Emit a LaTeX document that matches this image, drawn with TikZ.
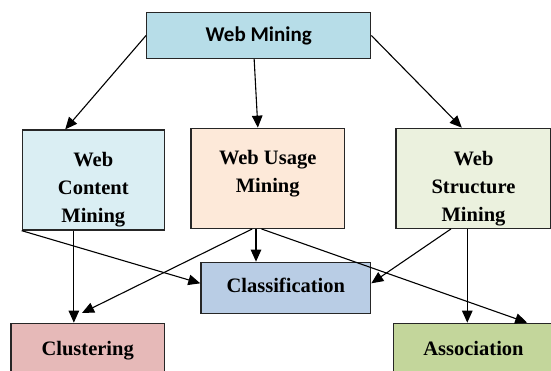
\documentclass[tikz,border=0pt]{standalone}
\usepackage{fontspec}
\setmainfont{Liberation Serif}
\newfontfamily\calibrifont{Carlito}
\usetikzlibrary{arrows.meta}

\definecolor{wmfill}{HTML}{B7DDE8}
\definecolor{contentfill}{HTML}{DAEEF3}
\definecolor{usagefill}{HTML}{FDE9D9}
\definecolor{structfill}{HTML}{EBF1DE}
\definecolor{classfill}{HTML}{B9CDE5}
\definecolor{clustfill}{HTML}{E6B9B8}
\definecolor{assocfill}{HTML}{C3D69B}

\begin{document}
\begin{tikzpicture}[x=1pt,y=-1pt,
  box/.style={draw=black!85, line width=1.3pt, inner sep=0pt, align=center,
    font=\bfseries\fontsize{20.5}{28}\selectfont},
  taskbox/.style={box, text height=14, text depth=4},
  arr/.style={line width=1.1pt, -{Triangle[length=12, width=10.5]}}]

\useasboundingbox (0,0) rectangle (551,370);
\clip (0,0) rectangle (551,370);

% top level
\node[box, fill=wmfill, minimum width=224, minimum height=45.6,
  font=\calibrifont\bfseries\fontsize{21}{25}\selectfont] (wm) at (258.7,35.5) {Web Mining};

% three kinds of mining
\node[box, fill=contentfill, minimum width=142, minimum height=100] (content) at (93.3,180) {\rule{0pt}{34pt}Web\\Content\\Mining};
\node[box, fill=usagefill, minimum width=153.3, minimum height=100] (usage) at (267.7,178.3) {\rule{0pt}{28pt}Web Usage\\Mining\\~};
\node[box, fill=structfill, minimum width=155, minimum height=100] (struct) at (473.5,178.3) {\rule{0pt}{34pt}Web\\Structure\\Mining};

% tasks
\node[taskbox, fill=classfill, minimum width=169.7, minimum height=51] (class) at (285.8,287.8) {Classification};
\node[taskbox, fill=clustfill, minimum width=153.3, minimum height=53.4] (clust) at (87.7,350) {Clustering};
\node[taskbox, fill=assocfill, minimum width=160, minimum height=53.4] (assoc) at (473.5,350) {Association};

\coordinate (clusttip) at (82,313);

\draw[arr] (wm.west) -- (content.119.5);
\draw[arr] (wm.259) -- (usage.101.3);
\draw[arr] (wm.east) -- (struct.103.3);

\draw[arr] (content.south west) -- (class.177);
\draw[arr] (content.249) -- (content.249 |- clust.north);

\draw[arr] (usage.257) -- (usage.257 |- class.north);
\draw[arr] (usage.253.6) -- (clusttip);
\draw[arr] (usage.263.5) -- (assoc.27.4);

\draw[arr] (struct.246.4) -- (class.3.2);
\draw[arr] (struct.263.4) -- (struct.263.4 |- assoc.north);

\end{tikzpicture}
\end{document}
